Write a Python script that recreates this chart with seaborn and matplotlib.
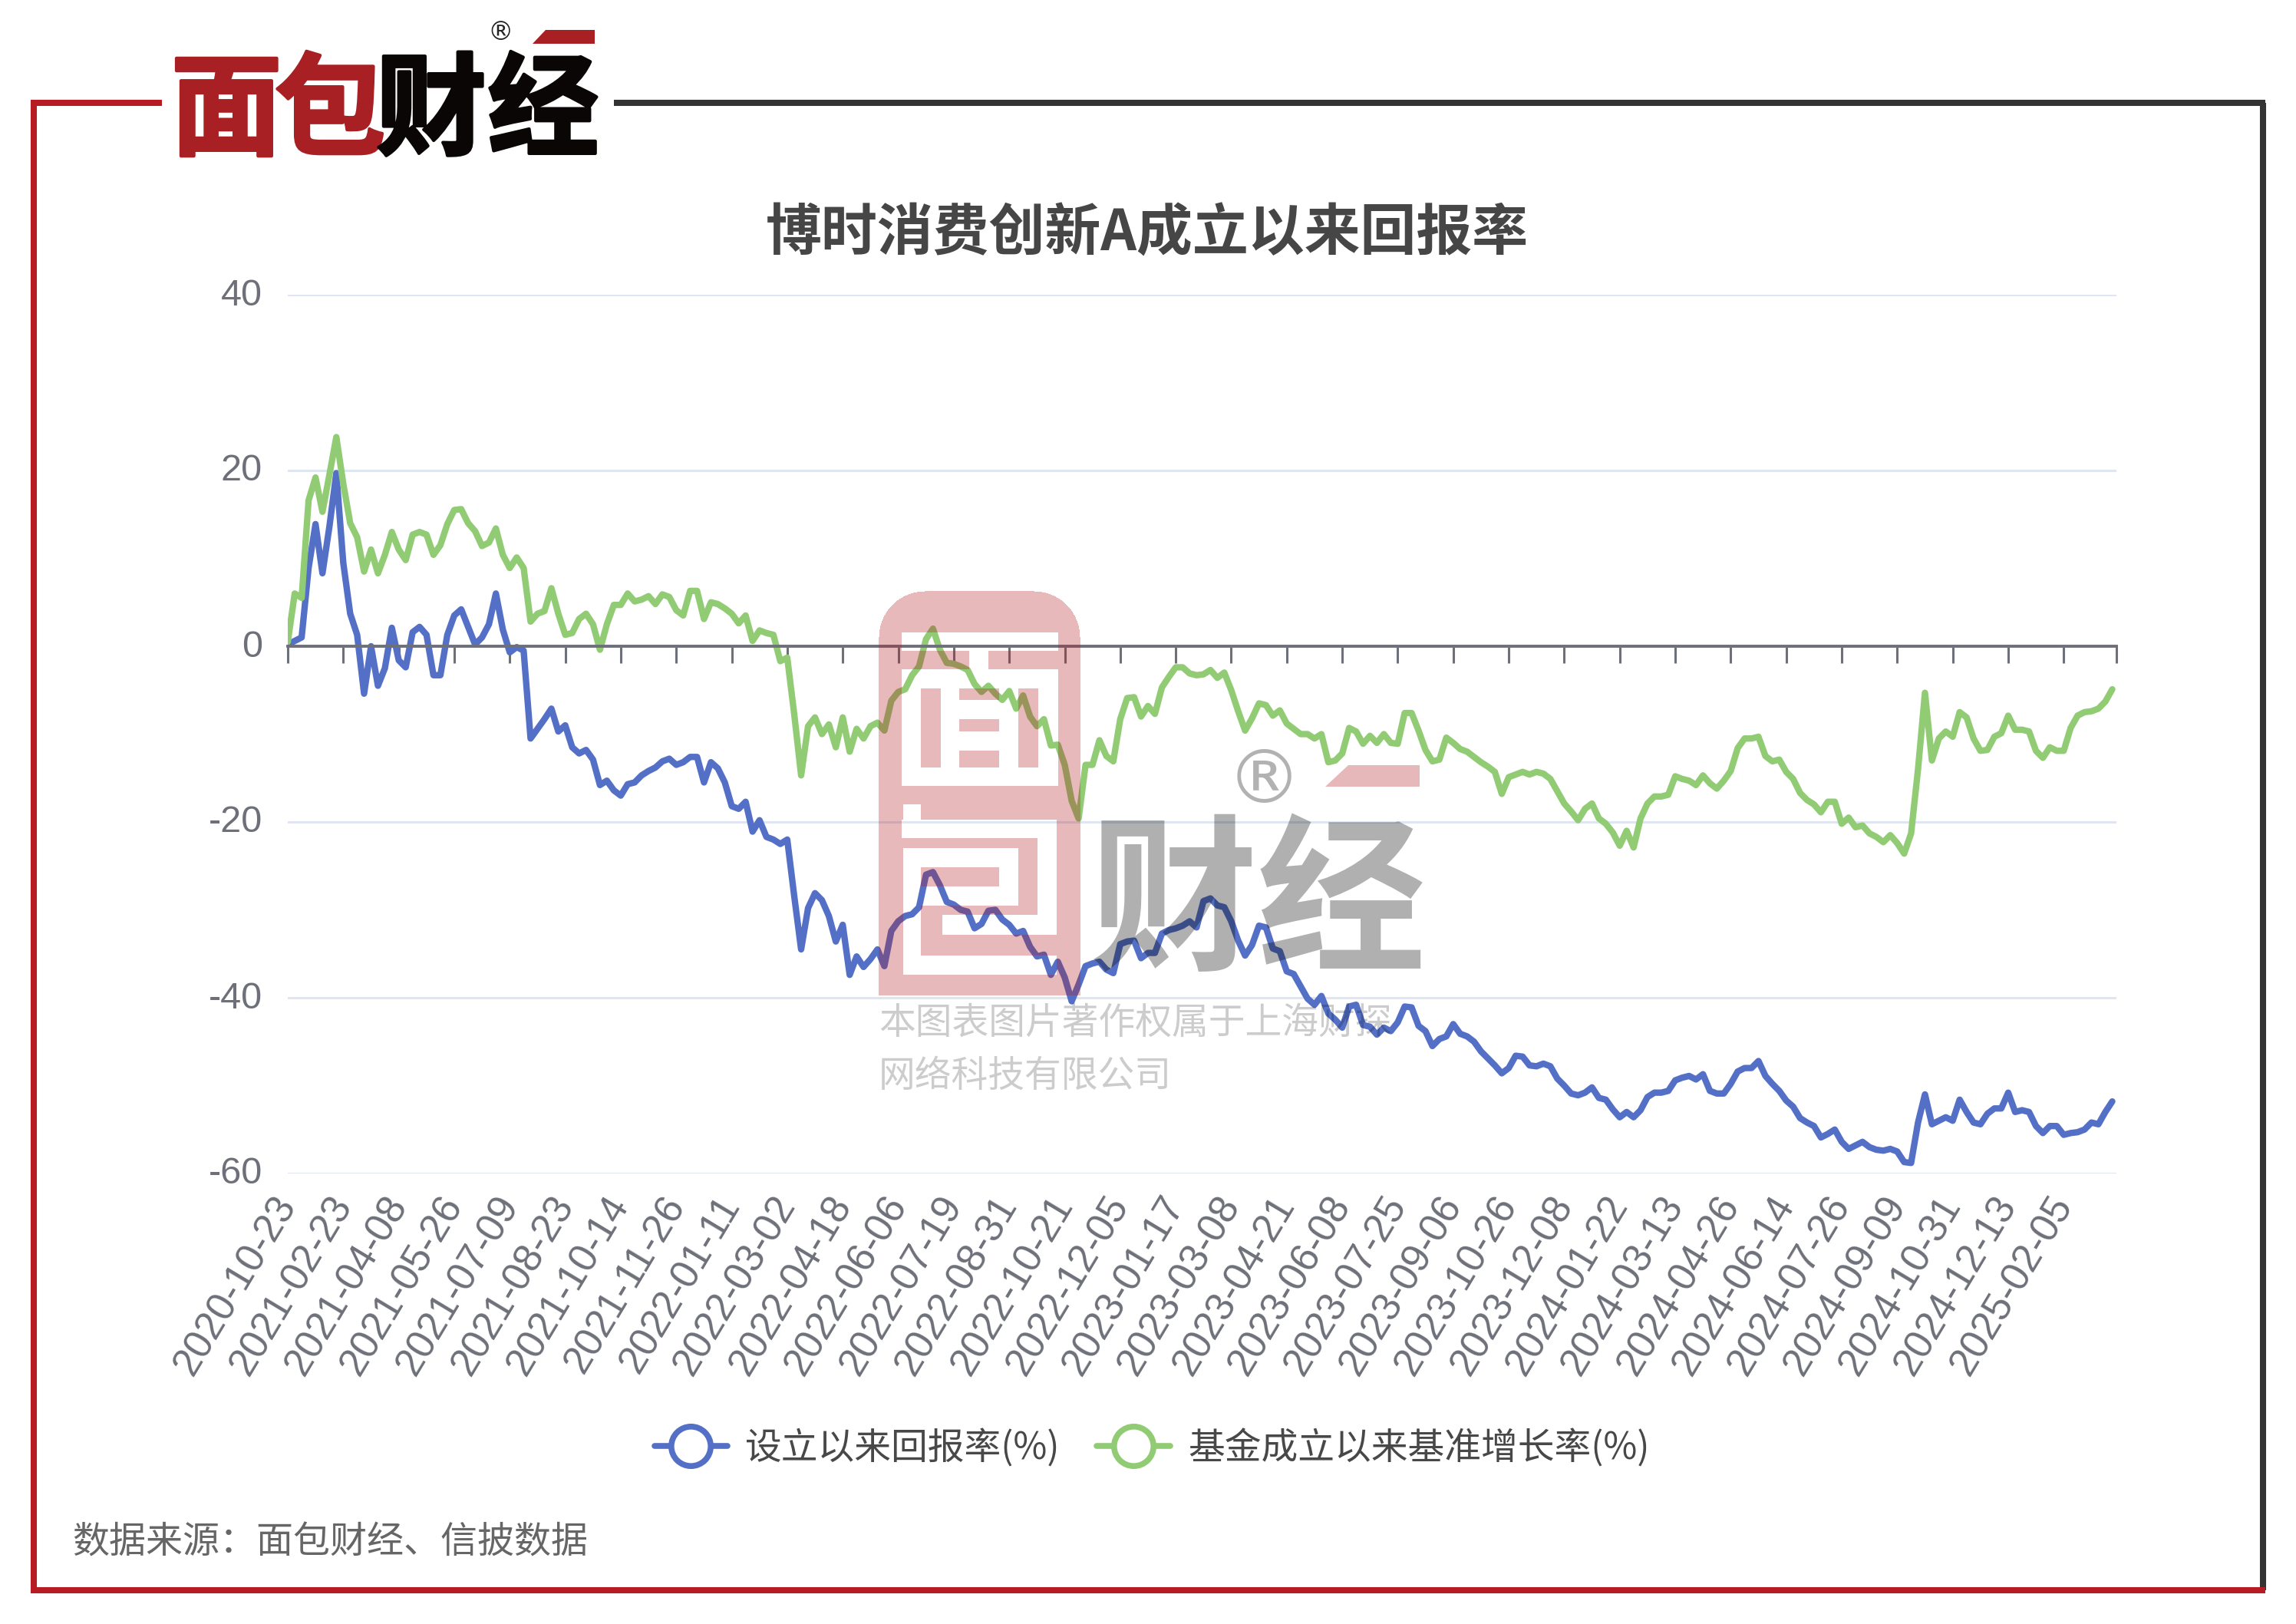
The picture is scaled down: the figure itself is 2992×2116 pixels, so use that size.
import numpy as np
import pandas as pd
import matplotlib as mpl
mpl.use('Agg')
import matplotlib.pyplot as plt
import matplotlib.patheffects as pe
from matplotlib.lines import Line2D
from matplotlib.patches import Polygon
from matplotlib.transforms import ScaledTranslation
import seaborn as sns

# date labels on the x axis, one every 8 samples
tick_labels = ['2020-10-23', '2021-02-23', '2021-04-08', '2021-05-26', '2021-07-09', '2021-08-23',
               '2021-10-14', '2021-11-26', '2022-01-11', '2022-03-02', '2022-04-18', '2022-06-06',
               '2022-07-19', '2022-08-31', '2022-10-21', '2022-12-05', '2023-01-17', '2023-03-08',
               '2023-04-21', '2023-06-08', '2023-07-25', '2023-09-06', '2023-10-26', '2023-12-08',
               '2024-01-22', '2024-03-13', '2024-04-26', '2024-06-14', '2024-07-26', '2024-09-09',
               '2024-10-31', '2024-12-13', '2025-02-05']

fund_return = [
    0.2, 0.6, 1.0, 8.9, 13.9, 8.3, 13.6, 19.7, 9.5, 3.7,
    1.3, -5.4, 0.0, -4.5, -2.5, 2.1, -1.6, -2.4, 1.6, 2.2,
    1.3, -3.3, -3.3, 1.3, 3.5, 4.2, 2.2, 0.2, 1.0, 2.5,
    6.0, 1.9, -0.7, -0.1, -0.5, -10.5, -9.4, -8.3, -7.1, -9.7,
    -9.0, -11.5, -12.2, -11.8, -12.9, -15.8, -15.3, -16.4, -17.0, -15.7,
    -15.5, -14.7, -14.2, -13.8, -13.1, -12.8, -13.5, -13.2, -12.6, -12.6,
    -15.5, -13.2, -13.9, -15.5, -18.2, -18.5, -17.7, -21.1, -19.8, -21.7,
    -22.0, -22.5, -22.0, -28.4, -34.5, -29.8, -28.1, -28.9, -30.7, -33.6,
    -31.7, -37.4, -35.3, -36.5, -35.6, -34.5, -36.4, -32.4, -31.3, -30.7,
    -30.5, -29.7, -26.0, -25.7, -27.2, -29.1, -29.4, -30.0, -30.2, -32.1,
    -31.6, -30.1, -30.0, -31.1, -31.7, -32.7, -32.4, -34.2, -35.3, -35.1,
    -37.4, -35.9, -37.7, -40.4, -38.5, -36.4, -36.1, -35.9, -36.8, -37.2,
    -33.9, -33.6, -33.5, -35.5, -34.9, -34.9, -32.7, -32.3, -32.1, -31.8,
    -31.3, -32.0, -29.0, -28.7, -29.5, -29.7, -31.3, -33.5, -35.2, -34.0,
    -31.8, -32.0, -34.4, -34.7, -37.0, -37.3, -38.7, -40.1, -40.8, -39.8,
    -41.8, -42.5, -43.4, -41.0, -40.8, -43.1, -43.3, -44.2, -43.4, -43.8,
    -42.8, -41.0, -41.1, -43.2, -43.8, -45.5, -44.7, -44.4, -43.0, -44.1,
    -44.4, -45.0, -46.1, -46.9, -47.7, -48.6, -48.0, -46.6, -46.7, -47.7,
    -47.8, -47.5, -47.8, -49.2, -50.0, -50.9, -51.1, -50.8, -50.2, -51.4,
    -51.6, -52.7, -53.6, -53.0, -53.6, -52.8, -51.3, -50.8, -50.8, -50.6,
    -49.4, -49.1, -48.9, -49.3, -48.7, -50.6, -50.9, -50.9, -49.8, -48.4,
    -48.0, -48.0, -47.2, -48.9, -49.8, -50.6, -51.7, -52.4, -53.7, -54.2,
    -54.6, -55.9, -55.5, -55.0, -56.4, -57.2, -56.8, -56.4, -57.0, -57.3,
    -57.4, -57.2, -57.5, -58.7, -58.8, -54.2, -51.0, -54.4, -54.0, -53.6,
    -54.0, -51.6, -53.0, -54.2, -54.4, -53.2, -52.6, -52.6, -50.8, -53.0,
    -52.8, -53.0, -54.6, -55.4, -54.6, -54.6, -55.6, -55.4, -55.3, -55.0,
    -54.2, -54.4, -53.0, -51.8,
]

benchmark_growth = [
    0.5, 6.0, 5.5, 16.6, 19.2, 15.3, 19.5, 23.8, 18.5, 14.0,
    12.4, 8.5, 11.0, 8.3, 10.4, 13.0, 11.0, 9.8, 12.7, 13.0,
    12.7, 10.4, 11.5, 13.9, 15.5, 15.6, 14.0, 13.1, 11.4, 11.8,
    13.4, 10.4, 8.9, 10.1, 8.9, 2.8, 3.7, 4.0, 6.6, 3.7,
    1.3, 1.5, 3.1, 3.7, 2.5, -0.4, 2.5, 4.7, 4.7, 6.0,
    5.1, 5.3, 5.7, 4.8, 5.9, 5.6, 4.1, 3.5, 6.3, 6.3,
    3.1, 5.0, 4.8, 4.3, 3.7, 2.6, 3.5, 0.6, 1.8, 1.5,
    1.3, -1.7, -1.3, -7.7, -14.7, -9.1, -8.1, -10.0, -8.9, -11.5,
    -8.1, -12.0, -9.4, -10.5, -9.1, -8.7, -9.6, -6.2, -5.2, -4.9,
    -3.3, -2.3, 0.8, 2.0, -0.4, -1.9, -2.0, -2.3, -2.7, -4.3,
    -5.2, -4.5, -5.4, -6.1, -5.1, -7.1, -5.6, -8.0, -9.1, -8.3,
    -11.3, -11.2, -13.5, -17.6, -19.6, -13.5, -13.5, -10.7, -12.5, -13.1,
    -8.3, -5.9, -5.8, -8.0, -6.8, -7.7, -4.7, -3.5, -2.4, -2.4,
    -3.1, -3.3, -3.2, -2.7, -3.6, -3.0, -5.0, -7.4, -9.6, -8.2,
    -6.5, -6.7, -7.9, -7.3, -8.8, -9.4, -10.0, -10.0, -10.5, -10.0,
    -13.2, -13.0, -12.2, -9.3, -9.7, -11.1, -10.2, -11.0, -10.0, -11.0,
    -11.1, -7.6, -7.6, -9.6, -11.8, -13.1, -12.9, -10.4, -11.0, -11.7,
    -12.0, -12.6, -13.2, -13.7, -14.3, -16.8, -14.9, -14.6, -14.3, -14.6,
    -14.3, -14.5, -15.1, -16.5, -17.9, -18.8, -19.8, -18.5, -17.9, -19.6,
    -20.2, -21.2, -22.7, -21.0, -22.9, -19.6, -17.9, -17.1, -17.1, -16.9,
    -14.8, -15.1, -15.3, -15.8, -14.7, -15.6, -16.2, -15.3, -14.2, -11.6,
    -10.5, -10.5, -10.3, -12.5, -13.1, -12.9, -14.3, -15.1, -16.7, -17.5,
    -18.0, -18.9, -17.7, -17.7, -20.2, -19.5, -20.6, -20.4, -21.3, -21.7,
    -22.3, -21.5, -22.4, -23.6, -21.3, -14.0, -5.3, -13.0, -10.5, -9.7,
    -10.3, -7.5, -8.1, -10.5, -11.9, -11.8, -10.3, -9.9, -7.9, -9.5,
    -9.5, -9.7, -11.9, -12.7, -11.5, -11.9, -11.9, -9.3, -7.9, -7.5,
    -7.4, -7.1, -6.3, -4.9,
]

series_names = ['设立以来回报率(%)', '基金成立以来基准增长率(%)']
y_ticks = [40, 20, 0, -20, -40, -60]

colors = ['#5470C6', '#91CC75']
W, H = 2992, 2116
CJK = ['Noto Sans CJK SC', 'DejaVu Sans']
LATIN = ['Liberation Sans', 'DejaVu Sans']


def wm_mask():
    # red "面包" block of the watermark, pixel rectangles on the full canvas
    a = np.zeros((H, W))
    a[770:1297, 1145:1408] = 1
    r = 60
    for i in range(r):
        d = r - int(np.sqrt(r**2 - (r - i)**2))
        a[770 + i, 1145:1145 + d] = 0
        a[770 + i, 1408 - d:1408] = 0
    holes = [(1175, 824, 1379, 1024), (1177, 1048, 1200, 1068), (1175, 1068, 1377, 1092),
             (1352, 1092, 1377, 1218), (1228, 1192, 1352, 1218), (1177, 1105, 1327, 1130),
             (1177, 1130, 1200, 1270), (1200, 1245, 1377, 1270), (1302, 1130, 1327, 1155),
             (1200, 1155, 1327, 1180)]
    for x0, y0, x1, y1 in holes:
        a[y0:y1, x0:x1] = 0
    islands = [(1175, 848, 1263, 872), (1288, 848, 1379, 872), (1200, 897, 1226, 1000),
               (1250, 897, 1302, 912), (1250, 937, 1302, 953), (1250, 978, 1302, 1000),
               (1327, 897, 1353, 1000)]
    for x0, y0, x1, y1 in islands:
        a[y0:y1, x0:x1] = 1
    return a


def main():
    sns.set_theme(style='white')
    plt.rcParams['font.family'] = CJK
    plt.rcParams['axes.unicode_minus'] = False

    fig = plt.figure(figsize=(W / 100, H / 100), dpi=100, facecolor='white')
    ax = fig.add_axes([375 / W, 1 - 1529 / H, (2758 - 375) / W, (1529 - 384) / H])

    idx = np.arange(len(fund_return))
    df = pd.DataFrame({'idx': np.r_[idx, idx],
                       'value': fund_return + benchmark_growth,
                       'series': [series_names[0]] * len(idx) + [series_names[1]] * len(idx)})
    sns.lineplot(data=df, x='idx', y='value', hue='series', hue_order=series_names,
                 palette=colors, ax=ax, legend=False, linewidth=6, errorbar=None, sort=False)

    ax.set_xlim(0, 263.6)
    ax.set_ylim(-60, 40)
    ax.set_xlabel('')
    ax.set_ylabel('')
    for s in ['top', 'left', 'right']:
        ax.spines[s].set_visible(False)
    ax.spines['bottom'].set_position(('data', 0))
    ax.spines['bottom'].set_color('#6E7079')
    ax.spines['bottom'].set_linewidth(2.8)

    ax.set_yticks(y_ticks)
    ax.tick_params(axis='y', length=0, pad=24, labelsize=35, labelcolor='#6E7079')
    up = ScaledTranslation(0, 4 / 100, fig.dpi_scale_trans)
    for t in ax.get_yticklabels():
        t.set_fontfamily(LATIN)
        t.set_transform(t.get_transform() + up)
    ax.yaxis.grid(True, color='#E0E6F1', linewidth=2.2)
    ax.set_axisbelow(True)

    ax.set_xticks(list(range(0, 8 * len(tick_labels), 8)) + [263.6])
    ax.set_xticklabels(tick_labels + [''], rotation=59, ha='right', va='center',
                       rotation_mode='anchor', fontsize=37, color='#6E7079', family=LATIN)
    ax.tick_params(axis='x', bottom=True, direction='out', length=16, width=2.2, color='#6E7079', pad=503)

    handles = [Line2D([], [], color=c, lw=5.5, marker='o', ms=37, mew=5.5, mfc='white', mec=c) for c in colors]
    ax.legend(handles, series_names, loc='center', bbox_to_anchor=(1501 / W, 1 - 1887 / H),
              bbox_transform=fig.transFigure, ncol=2, frameon=False, fontsize=34.4, labelcolor='#484848',
              handlelength=2.0, handletextpad=0.48, columnspacing=1.0)

    # overlay in image pixels: frame, logo, watermark, titles
    ov = fig.add_axes([0, 0, 1, 1], zorder=5)
    ov.patch.set_alpha(0)
    ov.set_axis_off()

    rgba = np.zeros((H, W, 4))
    rgba[..., 0], rgba[..., 1], rgba[..., 2] = 175 / 255, 22 / 255, 28 / 255
    rgba[..., 3] = wm_mask() * 0.3
    ov.imshow(rgba, extent=(0, W, H, 0), aspect='auto', interpolation='nearest')
    ov.set_xlim(0, W)
    ov.set_ylim(H, 0)

    red, dark = '#B71C24', '#333333'
    ov.plot([2949, 2949], [134, 2072], color=dark, lw=5.8, solid_capstyle='butt')
    ov.plot([800, 2952], [134, 134], color=dark, lw=5.8, solid_capstyle='butt')
    ov.plot([211, 44, 44, 2952], [134, 134, 2072, 2072], color=red, lw=5.8, solid_joinstyle='miter',
            solid_capstyle='butt')

    # logo
    stroke = {'#A82024': [pe.withStroke(linewidth=3, foreground='#A82024')],
              '#0A0605': [pe.withStroke(linewidth=3, foreground='#0A0605')]}
    for ch, x, c in zip('面包财经', [295, 430, 562, 708], ['#A82024', '#A82024', '#0A0605', '#0A0605']):
        ov.text(x, 148, ch, ha='center', va='center', fontsize=104, color=c, weight='bold', family=CJK,
                path_effects=stroke[c])
    ov.add_patch(Polygon([(694, 57), (711, 39), (775, 39), (775, 57)], color='#A82024', lw=0))
    ov.text(652, 42, '®', ha='center', va='center', fontsize=24, color='#222222', family=['DejaVu Sans'])

    # watermark text and logo remainder
    ov.text(1639, 1183, '财经', ha='center', va='center', fontsize=158, color='black', alpha=0.31,
            weight='bold', family=CJK)
    ov.add_patch(Polygon([(1727, 1025), (1757, 997), (1850, 997), (1850, 1025)],
                         facecolor=(175 / 255, 22 / 255, 28 / 255, 0.3), lw=0))
    ov.text(1647, 1020, '®', ha='center', va='center', fontsize=70, color='black', alpha=0.3,
            family=['DejaVu Sans'])
    ov.text(1145, 1333, '本图表图片著作权属于上海财探', ha='left', va='center', fontsize=34.4,
            color='black', alpha=0.2, family=CJK)
    ov.text(1145, 1402, '网络科技有限公司', ha='left', va='center', fontsize=34.4,
            color='black', alpha=0.2, family=CJK)

    ov.text(1495, 305, '博时消费创新A成立以来回报率', ha='center', va='center', fontsize=52.5,
            color='#464646', weight='bold', family=CJK)
    ov.text(94, 2010, '数据来源：面包财经、信披数据', ha='left', va='center', fontsize=34.6,
            color='#666666', family=CJK)

    fig.savefig('out.png', dpi=100)


if __name__ == '__main__':
    main()
